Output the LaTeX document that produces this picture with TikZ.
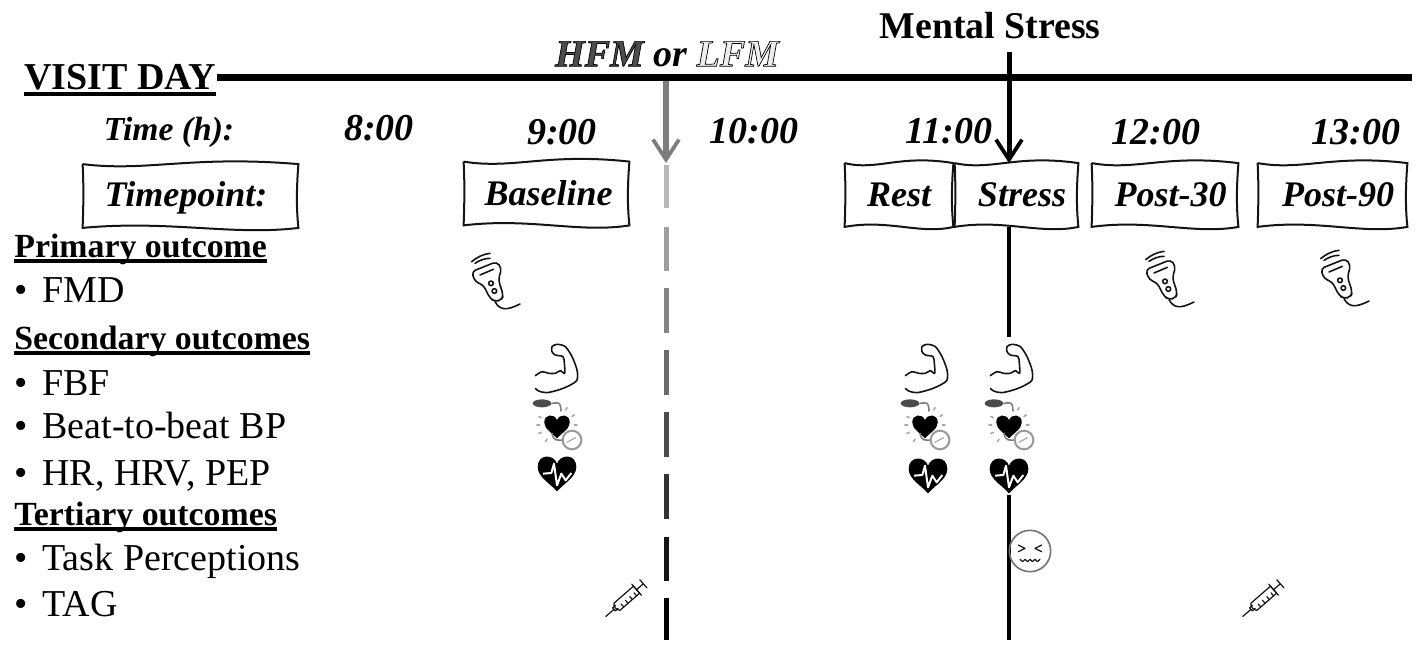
\documentclass[tikz,border=0pt]{standalone}
\usepackage{fontspec}
\setmainfont{Liberation Serif}
\usetikzlibrary{arrows.meta, positioning, calc}
\definecolor{charcoal}{RGB}{20, 20, 20}
\definecolor{midgray}{RGB}{125, 125, 125}
% wavy outline round a node
\newcommand{\wavybox}[1]{
    \draw[wavy] (#1.north west) .. controls ($(#1.north west)!0.3!(#1.north east)+(0,8)$) and ($(#1.north west)!0.5!(#1.north east)+(0,-9)$) .. (#1.north east)
        .. controls ($(#1.north east)!0.4!(#1.south east)+(-2,0)$) and ($(#1.north east)!0.7!(#1.south east)+(-2,0)$) .. (#1.south east)
        .. controls ($(#1.south east)!0.3!(#1.south west)+(0,8)$) and ($(#1.south east)!0.6!(#1.south west)+(0,-8)$) .. (#1.south west)
        .. controls ($(#1.south west)!0.4!(#1.north west)+(1,0)$) and ($(#1.south west)!0.7!(#1.north west)+(1,0)$) .. (#1.north west);
}
\newcommand{\heartshape}{(0,-25) .. controls (-10,-55) and (-58,-55) .. (-58,-15) .. controls (-58,15) and (-20,35) .. (0,58) .. controls (20,35) and (58,15) .. (58,-15) .. controls (58,-55) and (10,-55) .. (0,-25) -- cycle}
% outlined text, first argument is the fill grey
\newcommand{\outlined}[2]{\special{pdf:code q 2 Tr 0.35 w #1 g 0 G}#2\special{pdf:code Q}}
% heavy underline
\newcommand{\ulined}[1]{\setbox0\hbox{#1}\dp0=0pt \vtop{\box0\kern1pt\hrule height 2pt}}
\newcommand{\itemdot}{\makebox[14pt][l]{•}}

\begin{document}
\begin{tikzpicture}[
        x=0.5pt, y=-0.5pt,
        clock/.style={font=\fontsize{19}{22}\selectfont\bfseries\itshape},
        flagbox/.style={minimum height=31.5pt, inner sep=0pt, align=center, font=\fontsize{18}{21}\selectfont\bfseries\itshape},
        wavy/.style={line width=1pt, charcoal},
        heading/.style={anchor=base west, inner sep=0pt, font=\fontsize{16.9}{20}\selectfont\bfseries},
        item/.style={anchor=base west, inner sep=0pt, font=\fontsize{19}{22}\selectfont},
        arrow/.style={-{Straight Barb[length=10pt, width=13pt, line width=1.9pt]}, line width=2.5pt},
        icon/.style={line width=0.8pt, charcoal, line join=round, line cap=round},
        pics/probe/.style={code={
            \draw[icon, rounded corners=2pt] (-55,-25) -- (20,-55) -- (35,-35) -- (25,0) -- (40,45) -- (35,60) -- (15,65) -- (0,55) -- (-20,15) -- (-45,5) -- cycle;
            \draw[icon] (-30,-15) -- (10,-32);
            \draw[icon] (-45,-50) .. controls (-30,-60) and (-15,-65) .. (0,-65);
            \draw[icon] (-55,-55) .. controls (-40,-68) and (-20,-78) .. (0,-80);
            \draw[icon] (3,10) circle (7) (13,33) circle (7);
            \draw[icon] (15,65) .. controls (30,92) and (50,92) .. (90,72);
        }},
        pics/muscle/.style={code={
            \draw[icon] plot[smooth] coordinates {(-65,17) (-45,5) (-25,10) (-5,10) (10,2) (23,10) (22,-20) (18,-40) (-5,-45) (-15,-55) (-15,-70) (0,-77) (25,-70) (45,-40) (60,0) (60,30) (40,45) (10,58) (-30,68) (-55,63) (-65,55)};
        }},
        pics/cuff/.style={code={
            \fill[gray!60!black] (-45,-65) ellipse (28 and 12);
            \begin{scope}[yshift=-1pt, scale=0.66]
                \fill[black] \heartshape;
            \end{scope}
            \draw[icon, midgray] (-15,-65) .. controls (10,-68) .. (12,-42) (-15,25) .. controls (-10,50) and (0,45) .. (18,45);
            \draw[icon, gray!80, line width=1pt] (45,45) circle (28);
            \draw[icon, gray!70, line width=0.6pt] (30,52) -- (55,38);
            \foreach \a in {-60,-30,0,180,205,155,125}
                \draw[icon, gray!70] (\a:52) -- (\a:60);
        }},
        pics/heartbeat/.style={code={
            \fill[black] \heartshape;
            \draw[white, line width=1pt, line join=round] (-42,5) -- (-17,3) -- (-9,-25) -- (0,40) -- (13,5) -- (26,25) -- (43,3);
        }},
        pics/syringe/.style={code={
            \begin{scope}[rotate=41]
            \draw[icon, line width=0.6pt] (-84,0) -- (-52,0) (-52,-6) -- (-40,-6) (-52,6) -- (-40,6) (-52,-6) -- (-52,6);
            \draw[icon, line width=0.6pt] (-40,-14) -- (38,-14) -- (38,14) -- (-40,14) .. controls (-48,8) and (-48,-8) .. (-40,-14);
            \draw[icon, line width=0.6pt] (38,-22) -- (38,22) (38,0) -- (65,0) (65,-16) -- (65,16);
            \foreach \t in {-25,-8,9,26}
                \draw[icon, line width=0.6pt] (\t,14) -- (\t,2);
            \end{scope}
        }},
        pics/grimace/.style={code={
            \draw[icon, gray!90!black] (0,0) circle (62);
            \draw[icon, line width=0.6pt] (-35,-18) -- (-15,-8) -- (-35,2) (35,-18) -- (15,-8) -- (35,2);
            \draw[icon, line width=0.6pt] (-30,25) -- (-22,32) -- (-15,25) -- (-7,32) -- (0,25) -- (7,32) -- (15,25) -- (22,32) -- (30,25);
        }}
    ]
    \useasboundingbox (0,0) rectangle (1418,647);

    % header
    \node[anchor=base west, inner sep=0pt, font=\fontsize{19}{22}\selectfont\bfseries] (visit) at (24,90) {\ulined{VISIT DAY}};
    \coordinate (lineend) at (1412,77.5);
    \coordinate (visitend) at (217,77.5);
    \draw[line width=3.5pt] (visitend) -- (lineend);
    \node[font=\fontsize{18.9}{22}\selectfont\bfseries] (mental) at (990,26) {Mental Stress};
    \node[font=\fontsize{19}{22}\selectfont\bfseries\itshape] (meal) at (667,54) {\outlined{0.3}{HFM} or \outlined{0.93}{LFM}};

    % times
    \node[clock, font=\fontsize{16.8}{20}\selectfont\bfseries\itshape] (timelabel) at (169,132) {Time (h):};
    \node[clock] (eight) at (379,128) {8:00};
    \node[clock] (nine) at (562,132) {9:00};
    \node[clock] (ten) at (754,131) {10:00};
    \node[clock] (eleven) at (949,131) {11:00};
    \node[clock] (twelve) at (1156,132) {12:00};
    \node[clock] (thirteen) at (1356,132) {13:00};

    % timepoints
    \node[flagbox, minimum width=107.5pt] (timepoint) at (190.5,196) {\raisebox{0pt}[10pt][0pt]{Timepoint:}\hspace*{4.5pt}};
    \node[flagbox, minimum width=82.5pt] (baseline) at (546.5,193.5) {\hspace*{2pt}Baseline};
    \node[flagbox, minimum width=54pt] (rest) at (899,195) {Rest};
    \node[flagbox, minimum width=61.5pt] (stress) at (1016.5,195) {\hspace*{5.5pt}Stress};
    \node[flagbox, minimum width=73pt] (postthirty) at (1165,195) {\hspace*{5.5pt}Post-30};
    \node[flagbox, minimum width=74.5pt] (postninety) at (1332.5,195) {\hspace*{5.5pt}Post-90};
    \foreach \n in {timepoint, baseline, rest, stress, postthirty, postninety}
        {\wavybox{\n}}

    % outcomes
    \node[heading] (primary) at (14,257) {\ulined{Primary outcome}};
    \node[item] (fmd) at (14,302) {\itemdot FMD};
    \node[heading] (secondary) at (14,349) {\ulined{Secondary outcomes}};
    \node[item] (fbf) at (14,395) {\itemdot FBF};
    \node[item] (beat) at (14,438) {\itemdot Beat-to-beat BP};
    \node[item] (hr) at (14,485) {\itemdot HR, HRV, PEP};
    \node[heading] (tertiary) at (14,525) {\ulined{Tertiary outcomes}};
    \node[item] (task) at (14,570) {\itemdot Task Perceptions};
    \node[item] (tag) at (14,616) {\itemdot TAG};

    % meal line
    \coordinate (mealtop) at (666,81);
    \coordinate (mealtip) at (666,163);
    \draw[arrow, midgray, line width=3pt] (mealtop) -- (mealtip);
    \foreach \ya/\yb/\lev in {165/208/28, 227/271/38, 288/333/48, 350/395/58, 412/457/70, 474/519/80, 537/581/92, 598/640/100}
        \draw[line width=2.5pt, black!\lev] (666,\ya) -- (666,\yb);

    % stress line
    \coordinate (stresstop) at (1009,52);
    \draw[arrow] (stresstop) -- (stress.north -| stresstop);
    \coordinate (stressbreak) at (1009,337);
    \coordinate (stressresume) at (1009,495);
    \coordinate (stressend) at (1009,640);
    \draw[line width=2pt] (stress.south -| stressbreak) -- (stressbreak);
    \draw[line width=2pt] (stressresume) -- (stressend);

    % icons
    \pic[scale=1/3] (probea) at (490,280) {probe};
    \pic[scale=1/3] (probeb) at (1164,278) {probe};
    \pic[scale=1/3] (probec) at (1339,277) {probe};
    \pic[scale=1/3] (musclea) at (557,370) {muscle};
    \pic[scale=1/3] (muscleb) at (927,370) {muscle};
    \pic[scale=1/3] (musclec) at (1012,370) {muscle};
    \pic[scale=1/3] (cuffa) at (557,425) {cuff};
    \pic[scale=1/3] (cuffb) at (925,425) {cuff};
    \pic[scale=1/3] (cuffc) at (1009,425) {cuff};
    \pic[scale=1/3] (hearta) at (557,472) {heartbeat};
    \pic[scale=1/3] (heartb) at (928,474) {heartbeat};
    \pic[scale=1/3] (heartc) at (1009,474) {heartbeat};
    \pic[scale=1/3] (grimacea) at (1030,551) {grimace};
    \pic[scale=1/3] (syringea) at (627,598) {syringe};
    \pic[scale=1/3] (syringeb) at (1264,598) {syringe};
\end{tikzpicture}
\end{document}
